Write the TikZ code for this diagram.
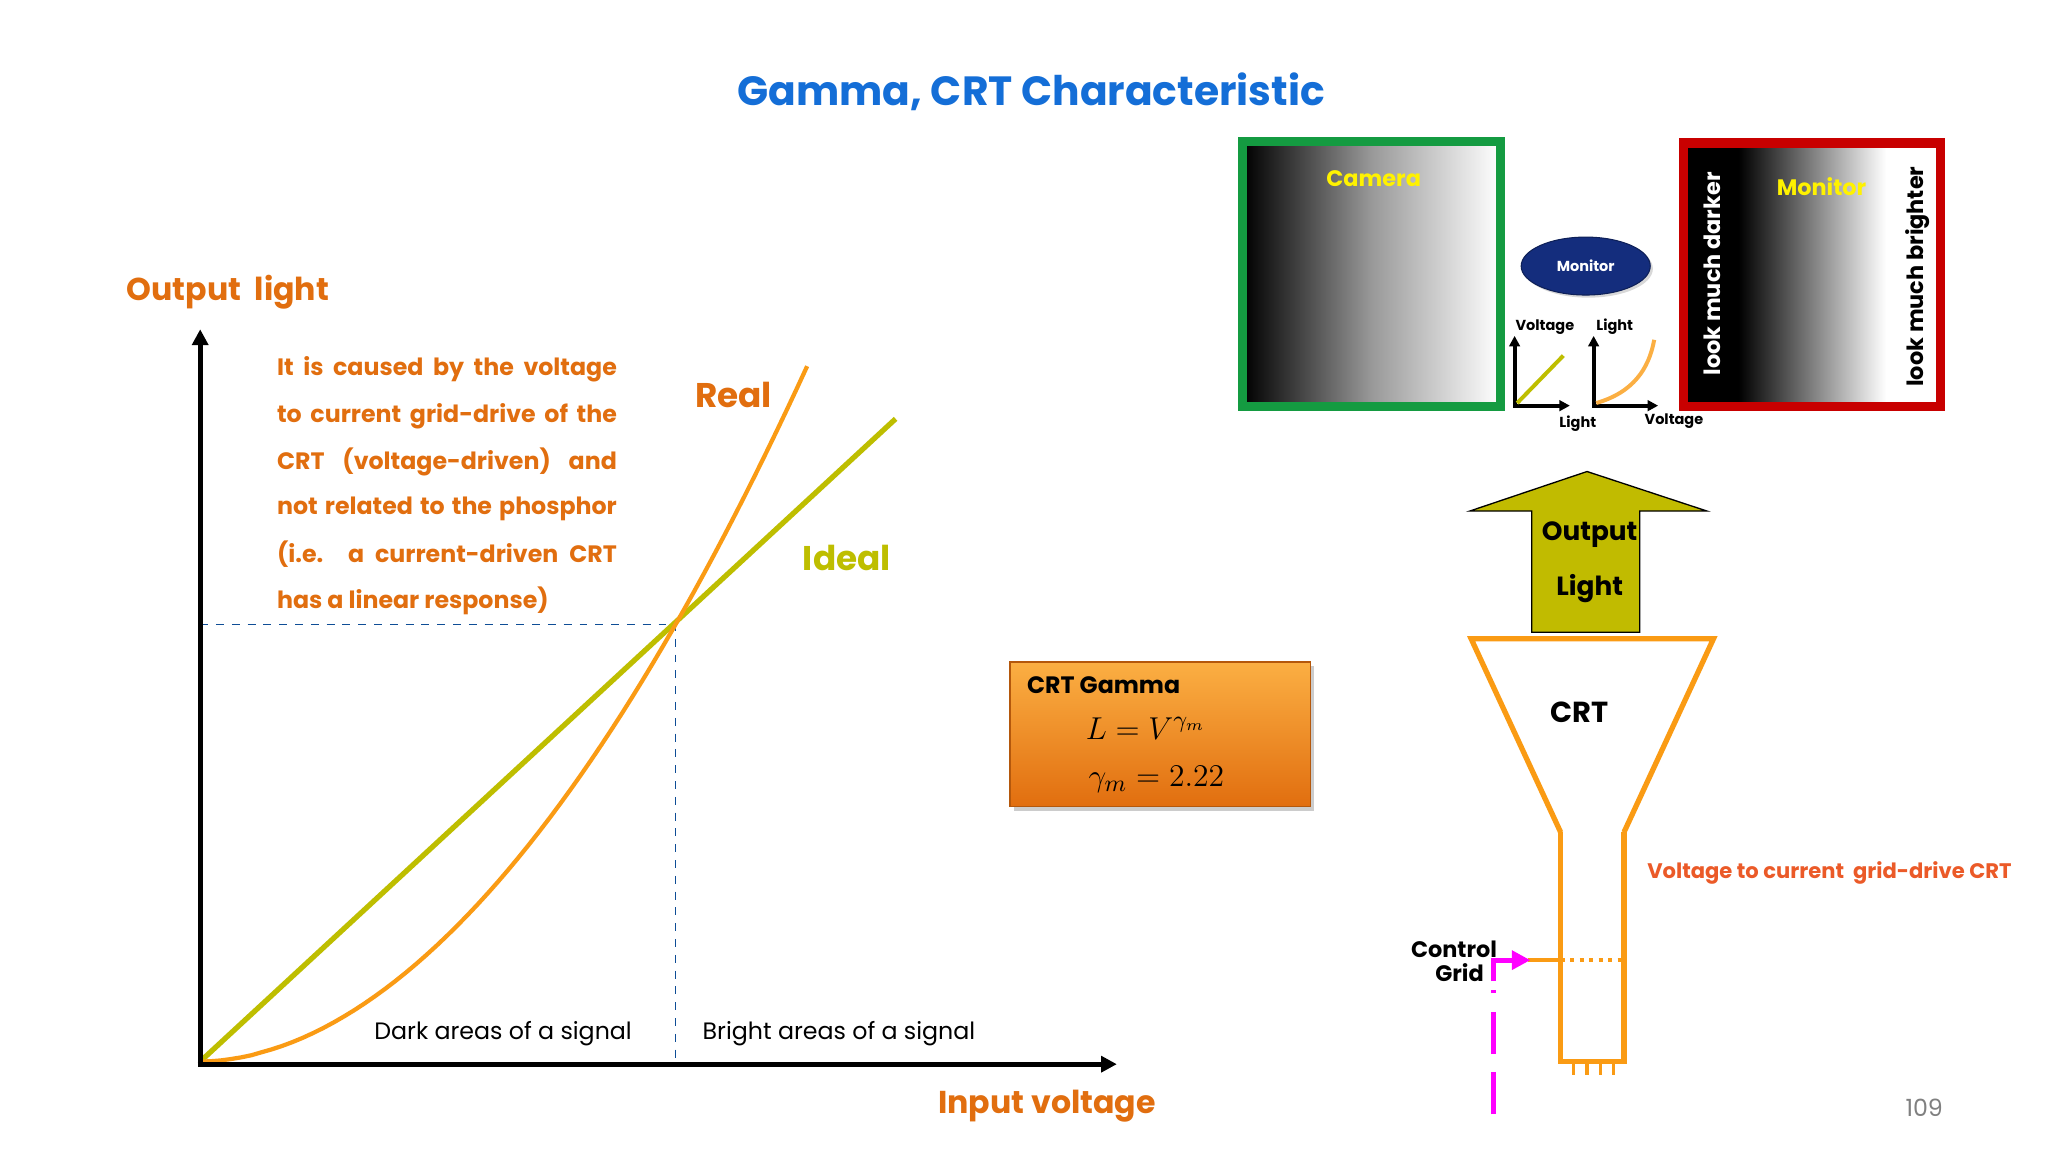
\documentclass[tikz,border=0pt]{standalone}
\usepackage{fontspec}
\setmainfont{Poppins}
\usetikzlibrary{arrows.meta,shadows,shapes.geometric}
\definecolor{ttl}{RGB}{20,110,215}
\definecolor{org}{RGB}{225,110,15}
\definecolor{olv}{RGB}{190,190,0}
\definecolor{crto}{RGB}{250,155,20}
\definecolor{vtxt}{RGB}{235,90,40}
\definecolor{camg}{RGB}{20,155,65}
\definecolor{monr}{RGB}{200,0,0}
\definecolor{mblue}{RGB}{20,45,125}
\definecolor{mag}{RGB}{255,0,255}
\tikzset{
  ax/.style={line width=2pt,-{Triangle[length=6pt,width=6pt]}},
  small/.style={font=\fontsize{5.5}{7}\selectfont\bfseries},
  lbl/.style={font=\fontsize{9}{11}\selectfont},
  pl/.style={text=org,font=\fontsize{9}{11}\selectfont\bfseries,anchor=west,inner sep=0},
}
\newcommand{\jl}[1]{\makebox[129pt][s]{#1}}
\begin{document}
\begin{tikzpicture}[x=0.5pt,y=-0.5pt]
\useasboundingbox[fill=white] (0,0) rectangle (1555,875);
\node[text=ttl,font=\fontsize{15.5}{18}\selectfont\bfseries] (title) at (783,70) {Gamma, CRT Characteristic};
% graph
\node[text=org,font=\fontsize{12}{14}\selectfont\bfseries] (ol) at (173,222) {Output\ \ light};
\node[text=org,font=\fontsize{12}{14}\selectfont\bfseries] (iv) at (795,840) {Input voltage};
\coordinate (O) at (152,808);
\coordinate (Y) at (152,250);
\coordinate (X) at (848,808);
\coordinate (P) at (513,474);
\draw[ttl!70!black,dashed,line width=0.5pt] (152,474) -- (P) -- (513,808);
\draw[olv,line width=2pt] (152,806) -- (680,318);
\draw[crto,line width=1.6pt] plot[domain=0:1.277,samples=60,variable=\t] ({152+361*\t},{806-332*(\t)^1.9});
\draw[ax] (O) -- (Y);
\draw[ax] (150,808) -- (X);
\node[pl] (p1) at (210,280) {\jl{It is caused by the voltage}};
\node[pl] (p2) at (210,316) {\jl{to current grid-drive of the}};
\node[pl] (p3) at (210,351) {\jl{CRT (voltage-driven) and}};
\node[pl] (p4) at (210,386) {\jl{not related to the phosphor}};
\node[pl] (p5) at (210,421) {\jl{(i.e. a current-driven CRT}};
\node[pl] (p6) at (210,456) {has a linear response)};
\node[text=org,font=\fontsize{13}{16}\selectfont\bfseries] (real) at (557,300) {Real};
\node[text=olv,font=\fontsize{13}{16}\selectfont\bfseries] (ideal) at (643,424) {Ideal};
\node[lbl] (dark) at (382,785) {Dark areas of a signal};
\node[lbl] (bright) at (637,785) {Bright areas of a signal};
% gamma box
\node[draw=org!80!black,line width=0.6pt,top color=crto!80!white,bottom color=org,drop shadow={shadow xshift=1.5pt,shadow yshift=-1.5pt,opacity=0.4},minimum width=114pt,minimum height=55pt,inner sep=0] (gbox) at (881,557.5) {};
\node[font=\fontsize{9}{11}\selectfont\bfseries] (gt) at (838,520) {CRT Gamma};
\node[font=\fontsize{13}{15}\selectfont] (m1) at (870,553) {$L=V^{\gamma_m}$};
\node[font=\fontsize{13}{15}\selectfont] (m2) at (878,592) {$\gamma_m=2.22$};
% camera
\shade[left color=black,right color=white,middle color=gray!80] (944,108) rectangle (1139,308);
\draw[camg,line width=3.5pt] (943.5,107.5) rectangle (1139.5,308.5);
\node[text=yellow,font=\fontsize{8.5}{10}\selectfont\bfseries] (cam) at (1043,136) {Camera};
% monitor ellipse
\node[ellipse,fill=mblue,draw=mblue!70!black,minimum width=49pt,minimum height=22pt,inner sep=0,text=white,small,drop shadow={shadow xshift=1pt,shadow yshift=-1pt,opacity=0.3}] (mon) at (1204,202) {Monitor};
% small plots
\draw[ax,line width=1.5pt,-{Triangle[length=4pt,width=4pt]}] (1150,308) -- (1150,255);
\draw[ax,line width=1.5pt,-{Triangle[length=4pt,width=4pt]}] (1149,308) -- (1192,308);
\draw[olv,line width=1.5pt] (1152,306) -- (1187,270);
\node[small] (v1) at (1173,248) {Voltage};
\node[small] (l1) at (1198,322) {Light};
\draw[ax,line width=1.5pt,-{Triangle[length=4pt,width=4pt]}] (1210,308) -- (1210,255);
\draw[ax,line width=1.5pt,-{Triangle[length=4pt,width=4pt]}] (1209,308) -- (1259,308);
\draw[crto!80!white,line width=1.5pt] (1212,306) .. controls (1240,298) and (1252,280) .. (1256,258);
\node[small] (l2) at (1226,248) {Light};
\node[small] (v2) at (1271,320) {Voltage};
% monitor box
\fill[black] (1279,109) rectangle (1320,308);
\shade[left color=black,right color=white] (1320,109) rectangle (1432,308);
\fill[white] (1432,109) rectangle (1473,308);
\draw[monr,line width=3.5pt] (1278.5,108.5) rectangle (1473.5,308.5);
\node[text=yellow,font=\fontsize{8.5}{10}\selectfont\bfseries] (monl) at (1383,142) {Monitor};
\node[text=white,rotate=90,font=\fontsize{8.5}{10}\selectfont\bfseries] (dk) at (1300,208) {look much darker};
\node[text=black,rotate=90,font=\fontsize{8.5}{10}\selectfont\bfseries] (br) at (1456,210) {look much brighter};
% output light arrow
\draw[fill=olv!95!orange,line width=0.5pt] (1163,480) -- (1163,388) -- (1116,388) -- (1205,358) -- (1296,388) -- (1245,388) -- (1245,480) -- cycle;
\node[font=\fontsize{10}{12}\selectfont\bfseries] (out) at (1207,406) {Output};
\node[font=\fontsize{10}{12}\selectfont\bfseries] (lig) at (1207,447) {Light};
% CRT funnel
\draw[crto,line width=2pt,line join=miter] (1185,632) -- (1117,485) -- (1301,485) -- (1233,632);
\draw[crto,line width=2pt] (1185,632) -- (1185,806) -- (1233,806) -- (1233,632);
\foreach \x in {1195,1205,1215,1225} \draw[crto,line width=1.2pt] (\x,806) -- (\x,816);
\node[font=\fontsize{11}{13}\selectfont\bfseries] (crt) at (1199,541) {CRT};
\draw[crto,line width=1.6pt,dotted] (1185,729) -- (1233,729);
\draw[crto,line width=1.6pt] (1160,729) -- (1185,729);
\draw[mag,line width=2pt,dash pattern=on 16pt off 7pt] (1134,846) -- (1134,752);
\draw[mag,line width=2pt,-{Triangle[length=7pt,width=7pt]}] (1134,745) -- (1134,729) -- (1162,729);
\node[font=\fontsize{8.5}{10}\selectfont\bfseries,align=right,anchor=east,inner sep=0] (cg) at (1137,730) {Control\\[-1pt]Grid\ \ \,};
\node[text=vtxt,font=\fontsize{8}{10}\selectfont\bfseries] (vt) at (1389,663) {Voltage to current\ \ grid-drive CRT};
\node[text=gray,font=\fontsize{9}{11}\selectfont] (pg) at (1461,841) {109};
\end{tikzpicture}
\end{document}
